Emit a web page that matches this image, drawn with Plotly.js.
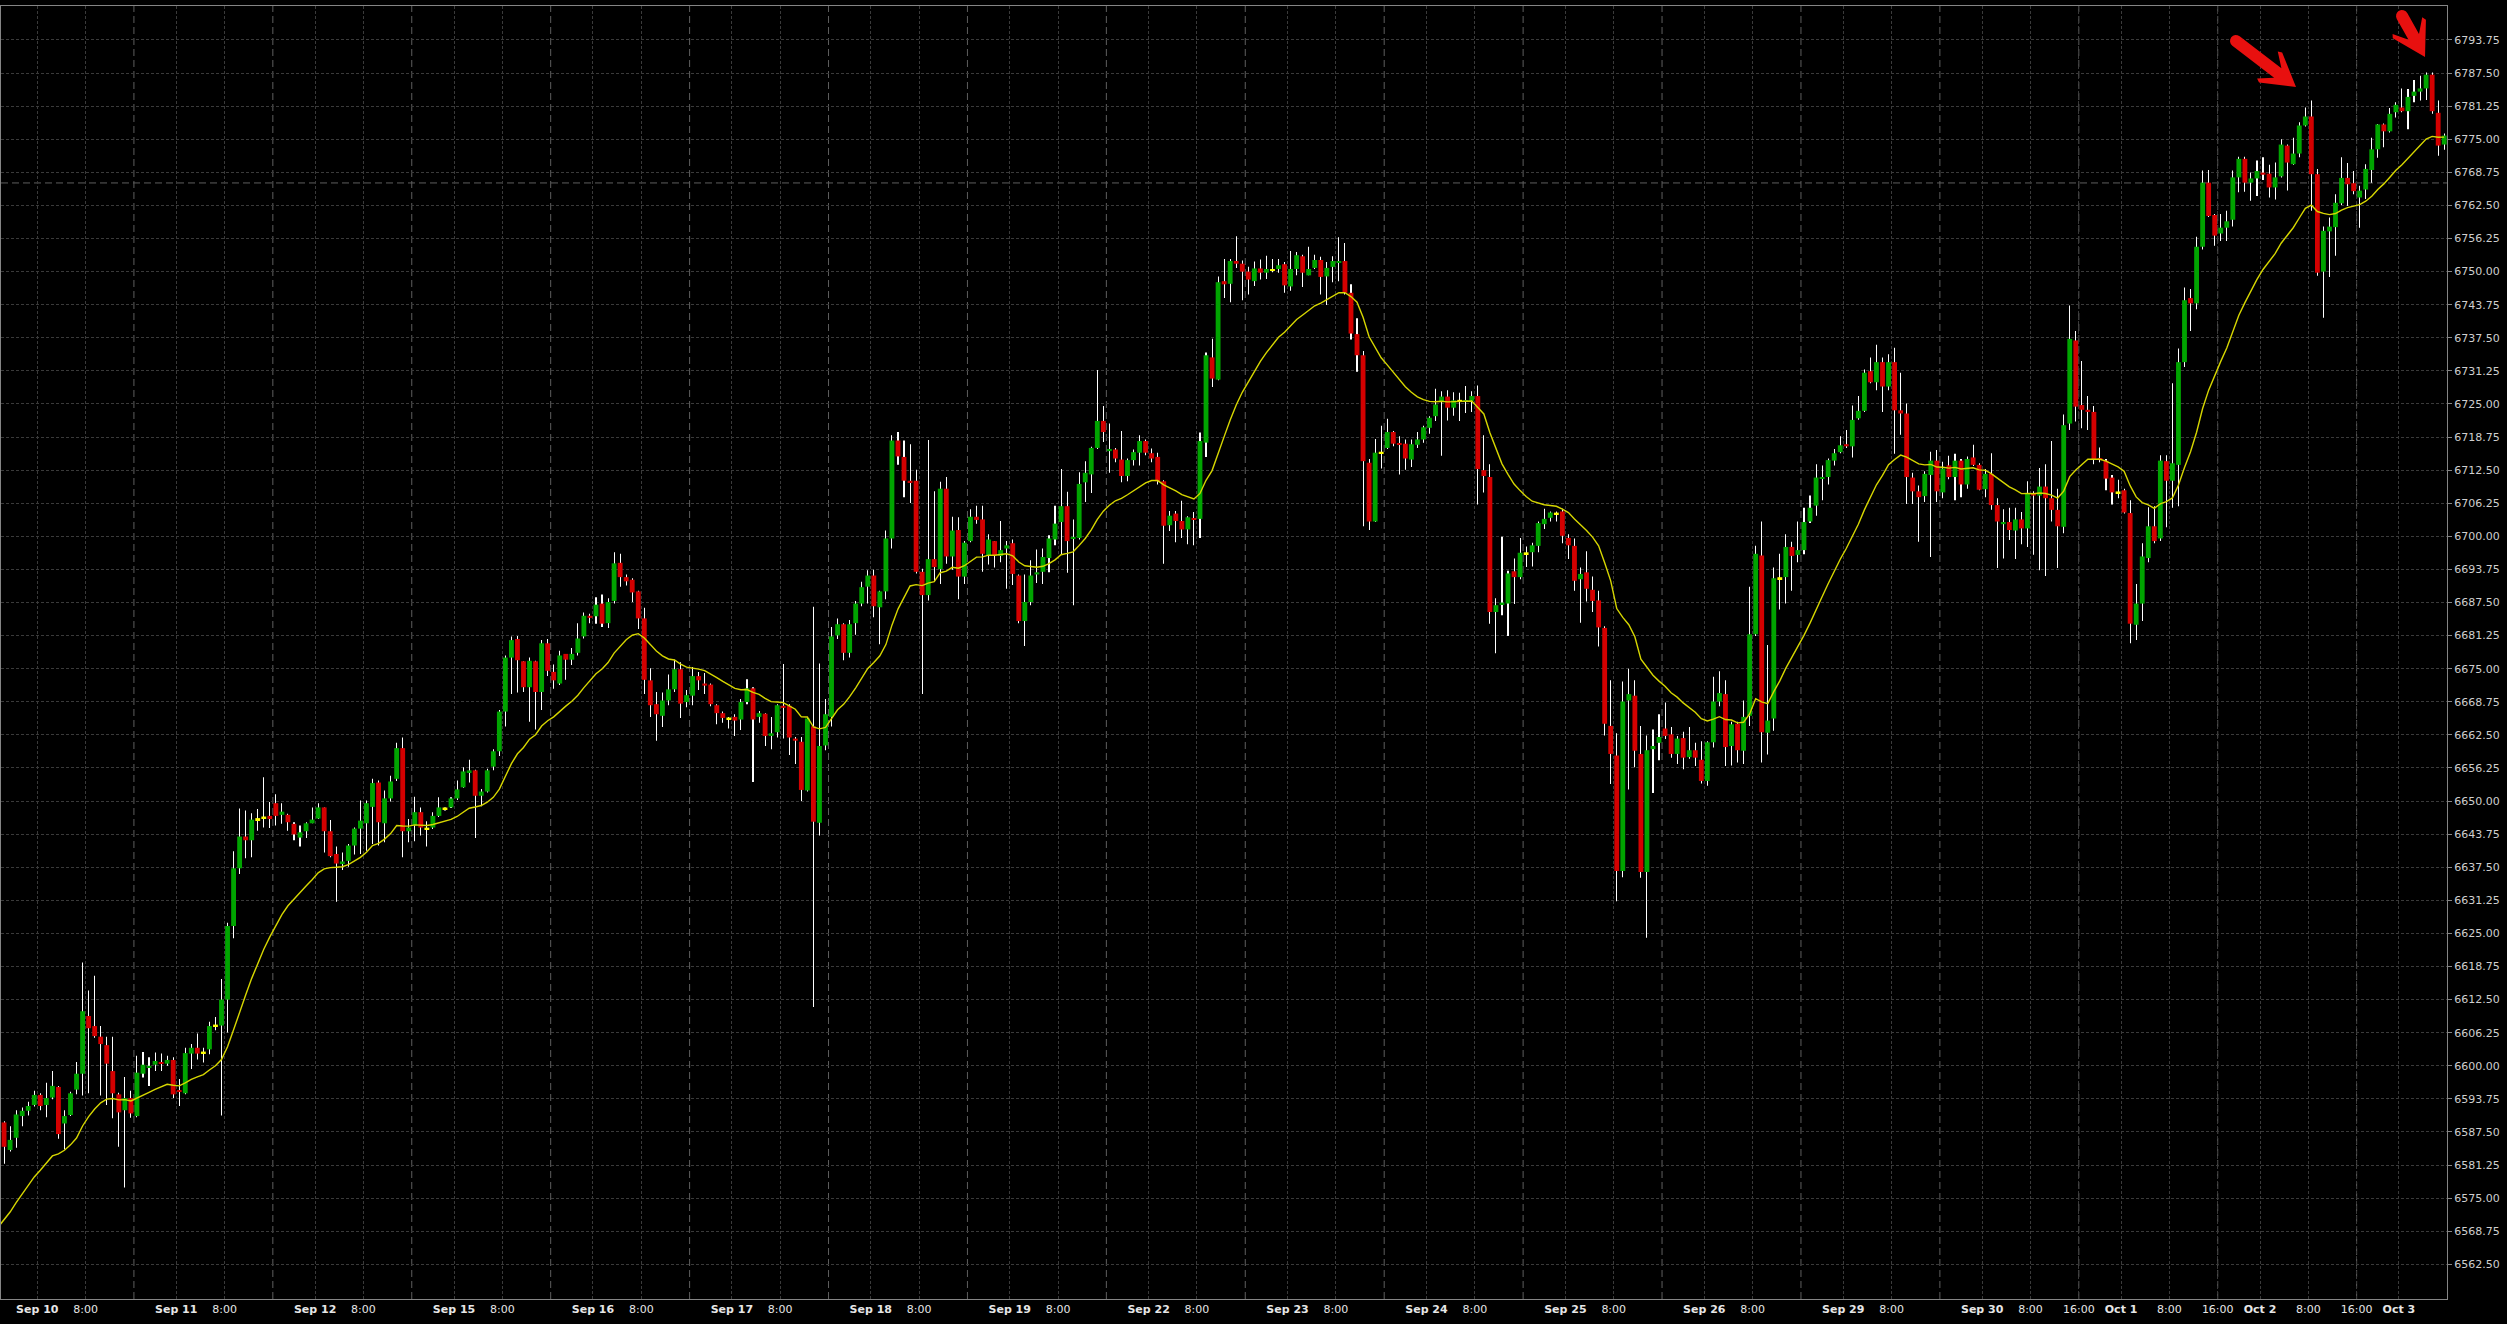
<!DOCTYPE html>
<html>
<head>
<meta charset="utf-8">
<script src="https://cdn.plot.ly/plotly-3.0.1.min.js"></script>
<style>
html,body{margin:0;padding:0;background:#000;overflow:hidden;}
#chart{width:2507px;height:1324px;}
</style>
</head>
<body>
<div id="chart"></div>
<script>
// Hourly candles, first candle = Sep 9 16:00, 23 candles per trading day
const tradingDays = ['Sep 10','Sep 11','Sep 12','Sep 15','Sep 16','Sep 17','Sep 18','Sep 19','Sep 22','Sep 23','Sep 24','Sep 25','Sep 26','Sep 29','Sep 30','Oct 1','Oct 2','Oct 3'];
const daysWith16Label = ['Sep 30','Oct 1','Oct 2'];
const candlesBeforeFirstDay = 7;
const candlesPerDay = 23;

const openPrices = [
6585.8,6589.3,6584.1,6586.4,6590.5,6591.5,6592.6,6594.5,6592.6,6594.0,
6596.0,6589.1,6590.7,6595.5,6598.5,6609.4,6607.5,6605.5,6603.9,6599.0,
6594.6,6591.6,6593.9,6590.5,6598.5,6599.7,6600.2,6600.7,6600.4,6601.1,
6595.4,6594.8,6602.3,6603.4,6602.5,6603.1,6607.6,6607.6,6612.5,6626.4,
6637.3,6643.3,6642.6,6646.6,6646.9,6647.2,6649.6,6647.4,6647.4,6645.7,
6643.1,6644.3,6645.8,6646.7,6648.8,6644.3,6640.0,6638.1,6638.7,6641.6,
6644.8,6645.8,6648.9,6653.5,6645.8,6650.5,6654.2,6660.0,6644.3,6645.4,
6647.9,6644.8,6645.0,6647.2,6648.6,6648.8,6650.5,6652.6,6655.3,6655.8,
6651.0,6651.8,6656.5,6659.4,6666.9,6677.1,6680.6,6676.4,6671.5,6676.4,
6670.6,6679.8,6674.4,6672.2,6677.8,6676.7,6678.0,6681.1,6685.0,6684.9,
6687.3,6683.6,6687.8,6695.0,6692.3,6691.8,6689.6,6684.5,6672.8,6668.3,
6666.1,6669.0,6671.1,6674.9,6668.7,6669.9,6673.6,6672.2,6672.0,6668.1,
6666.6,6665.6,6665.9,6665.4,6668.7,6671.3,6665.9,6666.5,6662.3,6663.0,
6668.0,6668.0,6661.8,6661.2,6652.0,6664.1,6645.9,6660.5,6665.9,6681.3,
6683.4,6678.0,6683.6,6687.3,6690.5,6692.6,6686.6,6689.6,6699.6,6718.1,
6715.0,6710.5,6710.5,6693.3,6688.9,6695.7,6693.8,6709.0,6696.2,6701.2,
6692.4,6699.1,6703.7,6703.2,6696.4,6699.1,6696.3,6697.7,6698.7,6692.6,
6684.0,6687.6,6692.8,6693.3,6695.9,6699.4,6702.7,6705.7,6699.5,6699.7,
6710.2,6711.7,6716.7,6721.8,6716.1,6716.4,6714.5,6711.4,6714.4,6715.8,
6718.0,6715.7,6715.0,6710.4,6702.1,6704.3,6702.9,6701.3,6703.4,6703.3,
6717.7,6733.8,6729.6,6748.2,6747.7,6752.0,6751.5,6750.0,6748.2,6750.6,
6749.8,6750.3,6750.5,6751.4,6747.2,6750.5,6752.9,6749.3,6750.7,6752.2,
6749.1,6750.9,6751.7,6752.0,6746.0,6738.2,6734.2,6713.9,6702.8,6715.8,
6716.7,6719.7,6717.5,6717.5,6714.5,6717.3,6718.3,6720.5,6722.7,6725.5,
6726.4,6724.3,6725.6,6725.5,6725.6,6726.5,6712.5,6711.2,6685.7,6687.2,
6687.3,6693.4,6692.3,6696.8,6697.0,6698.2,6702.3,6703.5,6704.3,6704.7,
6699.7,6698.2,6691.9,6693.2,6689.9,6687.9,6682.7,6664.2,6658.6,6636.8,
6669.0,6669.9,6658.9,6636.6,6659.8,6661.0,6663.7,6662.6,6658.9,6661.9,
6658.3,6659.6,6657.8,6653.8,6661.1,6668.8,6670.2,6660.4,6664.6,6659.5,
6666.1,6681.5,6696.4,6662.9,6665.6,6692.1,6692.3,6698.0,6696.5,6697.4,
6702.8,6705.8,6710.9,6711.2,6714.3,6715.9,6717.4,6717.0,6722.3,6723.7,
6731.2,6729.1,6732.9,6728.3,6732.9,6723.8,6723.2,6711.1,6708.5,6707.6,
6711.6,6714.3,6708.3,6713.4,6711.2,6714.3,6709.8,6714.9,6713.5,6708.9,
6711.8,6705.9,6702.3,6702.7,6701.1,6703.2,6701.5,6708.2,6707.7,6709.4,
6707.2,6705.0,6701.8,6721.3,6737.0,6724.8,6723.9,6723.5,6714.8,6714.3,
6711.1,6708.3,6708.7,6704.4,6683.3,6687.3,6695.9,6701.9,6699.6,6714.2,
6710.5,6713.5,6732.9,6745.0,6744.0,6754.7,6766.8,6760.7,6757.2,6758.3,
6759.8,6767.8,6771.3,6766.8,6767.6,6768.7,6768.5,6765.9,6768.0,6773.8,
6770.3,6772.3,6777.6,6779.3,6768.4,6750.0,6757.6,6758.4,6762.9,6767.7,
6766.7,6764.0,6765.5,6769.2,6773.1,6777.8,6776.5,6780.1,6781.0,6780.3,
6783.2,6784.0,6784.6,6787.2,6780.0,6774.0
];

const highPrices = [
6590.0,6589.5,6588.6,6591.6,6592.1,6593.2,6595.3,6594.8,6596.8,6599.0,
6596.2,6591.6,6595.1,6600.7,6619.5,6614.2,6617.0,6607.5,6605.5,6605.5,
6594.9,6597.9,6595.3,6601.9,6602.6,6601.6,6602.5,6602.3,6601.9,6601.6,
6597.5,6603.4,6604.1,6606.1,6603.4,6608.3,6609.2,6616.4,6627.0,6640.5,
6648.6,6648.2,6647.7,6648.5,6654.5,6649.8,6651.3,6649.6,6647.6,6646.0,
6645.4,6646.0,6648.8,6649.6,6648.8,6646.4,6641.4,6640.3,6641.9,6645.0,
6650.1,6650.1,6654.2,6653.9,6652.0,6654.8,6661.0,6662.0,6646.6,6650.8,
6648.8,6646.2,6647.9,6650.7,6648.8,6650.7,6653.9,6656.4,6657.8,6655.9,
6652.3,6656.1,6659.8,6667.2,6677.5,6681.1,6681.2,6676.4,6677.1,6676.5,
6680.4,6680.6,6675.8,6678.4,6677.8,6678.9,6683.6,6685.6,6685.4,6688.5,
6689.0,6688.3,6697.0,6696.7,6692.8,6692.1,6689.7,6686.5,6675.1,6670.6,
6670.5,6673.9,6676.7,6676.2,6671.0,6675.3,6674.4,6674.2,6672.2,6668.3,
6666.9,6665.9,6666.4,6669.3,6673.0,6671.5,6667.0,6666.6,6665.9,6668.3,
6675.9,6668.3,6662.1,6662.1,6665.9,6686.7,6676.0,6669.3,6682.9,6684.5,
6683.6,6684.2,6687.8,6691.4,6693.6,6693.7,6689.7,6701.1,6719.1,6719.7,
6718.1,6717.4,6712.6,6693.9,6718.2,6708.5,6710.3,6711.2,6703.7,6703.6,
6699.1,6705.1,6705.8,6705.8,6700.4,6699.1,6702.9,6699.1,6699.4,6692.8,
6692.8,6695.5,6697.5,6697.7,6700.2,6705.8,6712.7,6708.4,6703.2,6712.1,
6714.2,6716.9,6731.4,6724.6,6721.3,6716.7,6719.9,6714.7,6716.4,6719.1,
6718.3,6716.6,6715.8,6710.6,6704.8,6704.8,6706.7,6703.8,6704.6,6719.6,
6734.7,6737.3,6749.1,6752.4,6752.4,6756.7,6752.1,6750.9,6751.9,6752.3,
6753.0,6752.4,6752.4,6751.8,6753.9,6753.7,6753.2,6754.7,6753.2,6752.8,
6751.8,6752.9,6756.5,6755.4,6747.6,6741.2,6735.0,6714.6,6718.4,6720.9,
6722.2,6719.9,6718.9,6718.3,6718.3,6719.7,6720.9,6722.7,6727.9,6727.4,
6727.6,6727.2,6727.1,6728.4,6727.4,6728.5,6719.1,6713.6,6688.3,6699.9,
6693.5,6695.8,6699.7,6698.1,6698.8,6702.8,6705.2,6704.7,6704.7,6705.2,
6700.4,6699.6,6694.1,6697.2,6692.4,6689.7,6683.0,6672.8,6662.8,6672.6,
6675.0,6672.8,6664.2,6662.4,6663.5,6666.4,6668.6,6664.0,6662.3,6663.1,
6664.0,6661.0,6661.3,6661.3,6673.5,6674.5,6672.8,6665.0,6665.0,6669.0,
6690.5,6698.2,6702.8,6679.5,6694.1,6696.7,6700.4,6699.0,6702.8,6705.4,
6707.7,6713.6,6713.4,6714.7,6716.5,6718.9,6720.1,6724.7,6726.5,6731.5,
6733.8,6736.2,6733.8,6734.4,6735.6,6730.9,6725.1,6712.0,6709.6,6712.3,
6716.0,6716.3,6714.1,6715.2,6715.6,6714.6,6715.1,6717.3,6713.8,6712.7,
6715.7,6707.2,6705.1,6705.4,6705.4,6704.6,6710.4,6708.5,6712.9,6713.6,
6718.0,6709.0,6723.0,6743.6,6738.8,6733.1,6726.5,6724.6,6716.8,6714.6,
6711.6,6710.7,6709.0,6706.8,6691.0,6698.7,6705.5,6705.7,6715.3,6715.3,
6728.9,6735.5,6747.0,6746.7,6756.6,6769.1,6769.2,6760.9,6760.9,6761.5,
6769.1,6771.7,6771.7,6768.7,6771.0,6771.6,6770.2,6770.6,6775.0,6774.0,
6775.3,6778.2,6781.0,6782.3,6769.4,6758.5,6760.2,6764.6,6771.6,6770.5,
6769.0,6766.2,6770.3,6775.3,6777.9,6778.0,6780.9,6782.0,6784.6,6784.5,
6786.2,6787.0,6787.6,6787.6,6782.3,6776.1
];

const lowPrices = [
6584.5,6581.5,6583.8,6584.5,6588.6,6590.6,6592.3,6591.6,6590.3,6593.7,
6586.2,6584.2,6590.5,6594.6,6594.4,6594.8,6605.3,6594.4,6592.6,6590.1,
6584.7,6577.0,6590.2,6590.3,6597.8,6596.2,6599.0,6599.0,6600.0,6593.9,
6592.4,6594.6,6599.4,6601.2,6600.6,6602.2,6606.7,6590.6,6606.3,6624.1,
6636.2,6639.2,6639.4,6644.4,6645.0,6644.9,6645.4,6645.7,6644.4,6642.6,
6641.4,6643.0,6645.8,6646.6,6640.3,6639.4,6631.0,6637.0,6637.6,6639.9,
6640.0,6640.6,6641.9,6641.6,6642.2,6649.9,6653.8,6639.4,6642.2,6642.4,
6643.5,6641.4,6644.7,6647.0,6648.2,6648.7,6650.2,6652.5,6653.5,6643.0,
6649.0,6651.6,6655.8,6658.5,6664.1,6670.2,6670.5,6670.6,6665.0,6663.5,
6667.2,6673.6,6671.2,6671.9,6672.9,6675.7,6677.5,6680.7,6683.6,6683.5,
6682.9,6682.7,6687.3,6690.5,6690.7,6687.6,6682.5,6670.2,6665.9,6661.4,
6664.0,6668.1,6670.6,6665.7,6667.7,6668.1,6671.0,6670.2,6667.9,6664.5,
6664.8,6663.7,6662.3,6663.4,6668.3,6653.6,6664.8,6660.4,6659.8,6662.0,
6661.8,6658.7,6657.0,6650.0,6651.8,6611.1,6643.5,6659.6,6664.1,6680.6,
6676.6,6677.1,6681.4,6686.8,6687.3,6684.7,6679.6,6688.1,6697.7,6713.5,
6707.4,6706.3,6693.0,6670.2,6687.9,6691.5,6691.0,6694.8,6693.7,6688.1,
6691.0,6698.9,6702.4,6693.3,6694.7,6694.1,6695.1,6690.1,6690.8,6683.6,
6679.3,6687.0,6691.2,6691.0,6693.2,6698.3,6696.6,6693.1,6687.0,6699.4,
6706.5,6708.2,6716.5,6717.8,6712.0,6714.0,6710.2,6710.4,6713.4,6713.4,
6715.3,6714.0,6709.8,6694.8,6701.0,6698.9,6699.7,6698.5,6698.3,6699.7,
6715.0,6728.2,6729.5,6745.0,6744.2,6750.7,6744.6,6745.7,6747.3,6748.5,
6748.6,6749.9,6749.8,6746.0,6746.4,6749.3,6747.1,6749.3,6750.5,6745.7,
6743.7,6748.0,6748.2,6745.7,6737.2,6731.1,6701.9,6701.2,6702.7,6712.8,
6716.5,6717.0,6711.7,6712.6,6713.1,6716.7,6717.7,6719.4,6721.8,6715.2,
6721.9,6722.8,6721.8,6723.3,6723.5,6706.0,6708.3,6683.5,6677.9,6685.1,
6681.2,6687.2,6691.9,6694.2,6694.3,6697.0,6701.4,6702.8,6702.8,6698.7,
6695.7,6689.7,6683.7,6687.7,6685.7,6679.2,6662.4,6653.2,6631.1,6635.6,
6652.2,6656.4,6635.5,6624.2,6651.5,6657.7,6661.7,6658.2,6657.0,6656.0,
6658.0,6656.6,6653.3,6652.9,6660.1,6667.9,6656.6,6656.7,6657.3,6657.0,
6664.2,6681.2,6657.3,6658.8,6663.3,6686.2,6687.3,6689.7,6695.1,6696.6,
6702.5,6703.9,6706.8,6709.8,6713.4,6715.7,6716.7,6714.9,6722.0,6723.5,
6728.9,6727.6,6723.5,6727.6,6715.6,6719.2,6706.1,6706.1,6699.0,6706.5,
6696.1,6706.5,6707.2,6710.8,6706.8,6707.4,6709.0,6713.3,6708.7,6707.4,
6705.0,6694.0,6695.8,6699.3,6695.7,6698.5,6698.0,6696.5,6693.6,6692.5,
6702.8,6694.0,6700.6,6720.1,6721.7,6720.4,6720.1,6713.6,6714.0,6708.7,
6706.0,6707.2,6704.3,6679.8,6680.4,6684.0,6695.1,6698.7,6699.1,6701.7,
6705.4,6705.7,6732.0,6738.8,6742.9,6754.2,6760.3,6754.9,6755.8,6755.8,
6758.5,6765.0,6765.1,6763.4,6764.3,6767.3,6764.0,6763.6,6767.8,6765.3,
6770.2,6771.6,6777.4,6761.5,6749.2,6741.3,6749.0,6753.0,6762.6,6762.4,
6764.6,6758.3,6763.7,6766.8,6771.5,6773.5,6776.3,6779.1,6780.1,6776.9,
6782.0,6782.3,6782.4,6779.8,6771.9,6773.0
];

const closePrices = [
6589.0,6584.7,6586.0,6590.8,6591.5,6592.4,6594.5,6592.4,6593.9,6596.2,
6587.1,6590.5,6594.8,6598.5,6610.3,6607.1,6605.6,6604.1,6600.4,6594.8,
6591.2,6593.9,6591.0,6598.7,6600.2,6600.0,6600.9,6600.4,6601.1,6594.6,
6595.1,6602.4,6603.4,6602.3,6602.5,6607.5,6607.6,6612.5,6626.4,6637.3,
6643.3,6642.6,6646.5,6646.6,6646.9,6646.6,6647.2,6648.0,6646.0,6643.7,
6644.1,6645.8,6646.5,6648.8,6644.3,6639.6,6638.2,6638.6,6641.6,6644.8,
6646.3,6649.6,6653.4,6646.0,6650.5,6653.7,6660.0,6644.3,6645.0,6647.9,
6645.0,6644.8,6647.2,6648.8,6648.6,6650.5,6652.2,6655.6,6655.8,6651.0,
6651.8,6655.8,6659.4,6666.9,6677.1,6680.4,6676.6,6671.5,6676.5,6670.6,
6679.8,6674.6,6672.8,6677.5,6676.7,6677.8,6680.7,6685.0,6684.6,6687.1,
6683.5,6687.6,6694.9,6692.3,6691.5,6689.4,6684.5,6672.9,6668.1,6666.4,
6669.0,6671.1,6674.9,6668.4,6670.0,6673.6,6672.8,6671.8,6668.3,6666.6,
6665.7,6665.6,6665.2,6668.7,6671.3,6665.4,6666.6,6662.3,6662.8,6668.1,
6667.6,6662.0,6661.4,6652.1,6665.6,6646.1,6660.4,6666.4,6681.1,6683.4,
6678.0,6683.4,6687.3,6690.4,6692.6,6686.8,6689.6,6699.6,6718.1,6715.1,
6710.5,6710.2,6693.3,6688.9,6695.7,6694.2,6709.0,6696.2,6701.1,6692.4,
6698.8,6703.7,6703.1,6696.7,6699.4,6696.4,6697.4,6698.3,6692.9,6684.0,
6687.6,6692.6,6693.2,6696.1,6699.6,6702.4,6705.7,6699.1,6699.9,6709.9,
6712.0,6716.7,6721.8,6719.7,6716.5,6714.7,6711.4,6714.4,6715.9,6718.0,
6715.8,6714.7,6710.4,6702.0,6703.9,6702.9,6701.3,6703.6,6703.2,6718.0,
6734.2,6729.8,6748.0,6747.6,6752.0,6751.5,6750.0,6748.5,6750.6,6749.8,
6750.5,6750.3,6751.2,6747.4,6750.5,6753.1,6749.8,6750.5,6752.2,6749.0,
6750.7,6752.0,6752.0,6746.0,6738.3,6734.2,6714.2,6702.8,6715.8,6715.8,
6719.7,6717.5,6717.3,6714.7,6717.4,6718.3,6720.6,6722.4,6724.9,6726.4,
6724.3,6725.7,6725.6,6725.7,6726.5,6712.7,6711.4,6685.7,6687.0,6687.5,
6693.0,6692.3,6696.9,6696.8,6698.3,6702.5,6703.3,6704.5,6704.3,6700.1,
6698.3,6691.6,6692.9,6690.1,6687.8,6682.8,6664.6,6658.9,6636.8,6668.8,
6670.2,6659.5,6636.6,6659.6,6660.4,6662.1,6662.3,6658.9,6661.8,6658.2,
6659.6,6658.2,6653.8,6661.1,6668.8,6670.4,6660.2,6664.5,6659.6,6665.9,
6681.5,6696.7,6663.0,6665.2,6692.1,6692.1,6698.0,6696.3,6697.4,6702.7,
6705.4,6711.1,6711.2,6714.4,6715.7,6717.2,6717.0,6722.0,6723.7,6730.9,
6729.1,6732.9,6728.3,6732.9,6723.8,6723.2,6711.2,6708.5,6707.4,6711.8,
6714.3,6708.5,6712.8,6711.2,6714.3,6709.8,6714.6,6713.5,6708.8,6711.8,
6705.9,6702.8,6702.7,6701.2,6703.2,6701.5,6708.2,6707.7,6709.4,6707.2,
6705.0,6701.9,6721.0,6737.3,6724.5,6723.9,6723.5,6714.6,6714.4,6710.9,
6708.3,6708.3,6704.5,6683.5,6687.3,6696.2,6701.9,6699.1,6714.3,6710.5,
6713.8,6732.9,6744.6,6744.0,6754.7,6766.8,6760.5,6756.8,6758.3,6759.5,
6767.8,6771.3,6766.8,6767.6,6769.0,6768.3,6765.9,6767.8,6774.0,6770.6,
6772.3,6777.6,6779.3,6768.4,6749.8,6757.7,6758.5,6763.0,6767.7,6766.5,
6765.2,6765.3,6769.4,6773.1,6777.8,6776.5,6779.8,6781.5,6780.3,6783.0,
6784.0,6784.6,6787.2,6780.3,6773.8,6775.7
];

// Moving average (EMA 20 of closes); its value at the left edge
const maPeriod = 20;
const maStartValue = 6569.5;

// horizontal dashed level line
const levelPrice = 6766.75;

// y axis tick labels
const yTickFirst = 6562.5, yTickLast = 6793.75, yTickStep = 6.25;

// arrow annotations: tip in (candle index, price), tail offset from tip in px
const arrowTips = [[380.46, 6784.87], [401.82, 6790.54]];
const arrowTailOffsets = [[-60, -46], [-23, -41]];

// ---------- build ----------
const N = closePrices.length;
const idx = closePrices.map((_, i) => i);
const GREEN = '#00a400', RED = '#d40000', DOJI = '#ffff00';

const wickLen = highPrices.map((h, i) => h - lowPrices[i]);
const bodyBase = [], bodyLen = [], bodyColor = [];
const minBody = 0.2, dojiThick = 0.36;
for (let i = 0; i < N; i++) {
  const o = openPrices[i], c = closePrices[i];
  if (o === c) {
    bodyBase.push(o - dojiThick / 2); bodyLen.push(dojiThick); bodyColor.push(DOJI);
  } else {
    let lo = Math.min(o, c), len = Math.abs(c - o);
    if (len < minBody) { lo = (o + c) / 2 - minBody / 2; len = minBody; }
    bodyBase.push(lo); bodyLen.push(len); bodyColor.push(c > o ? GREEN : RED);
  }
}

const k = 2 / (maPeriod + 1);
const ma = [];
for (let i = 0; i < N; i++) {
  ma.push(i === 0 ? maStartValue : ma[i - 1] + k * (closePrices[i] - ma[i - 1]));
}

const W = 2507, H = 1324;
const margin = {l: 1, r: 60, t: 6, b: 25};
const xRange = [0.4934, 405.46];
const yRange = [6555.95, 6800.17];
const plotW = W - margin.l - margin.r, plotH = H - margin.t - margin.b;
const pxPerX = plotW / (xRange[1] - xRange[0]);
const pxPerY = plotH / (yRange[1] - yRange[0]);
const toPx = (x, y) => [margin.l + (x - xRange[0]) * pxPerX, margin.t + (yRange[1] - y) * pxPerY];
const toData = (px, py) => [xRange[0] + (px - margin.l) / pxPerX, yRange[1] - (py - margin.t) / pxPerY];

// x ticks: gridlines sit half a candle before the hour's candle
const tickvals = [], ticktext = [], shapes = [];
tradingDays.forEach((d, di) => {
  const start = candlesBeforeFirstDay + candlesPerDay * di - 0.5;
  const add = (v, t) => { if (v > xRange[0] && v < xRange[1] - 1) { tickvals.push(v); ticktext.push(t); } };
  add(start, '<b>' + d + '</b>');
  add(start + 8, '8:00');
  if (daysWith16Label.includes(d)) add(start + 16, '16:00');
});
for (let di = -1; di < tradingDays.length; di++) {
  const v = candlesBeforeFirstDay + candlesPerDay * di + 16 - 0.5;
  if (v > xRange[0] && v < xRange[1]) {
    shapes.push({type: 'line', xref: 'x', yref: 'paper', x0: v, x1: v, y0: 0, y1: 1,
      line: {color: '#5e5e5e', width: 1, dash: '7px,4px'}, layer: 'below'});
  }
}
shapes.push({type: 'line', xref: 'paper', yref: 'y', x0: 0, x1: 1, y0: levelPrice, y1: levelPrice,
  line: {color: '#5e5e5e', width: 1, dash: '7px,4px'}, layer: 'below'});

// red marker-style arrows as filled paths
function arrowPath(tip, off) {
  const P = toPx(tip[0], tip[1]);
  const T = [P[0] + off[0], P[1] + off[1]];
  const len = Math.hypot(P[0] - T[0], P[1] - T[1]);
  const u = [(P[0] - T[0]) / len, (P[1] - T[1]) / len];
  const v = [-u[1], u[0]];
  const w = 12, hl = 36, hw = 17, notch = 13;
  const pt = (base, a, b) => [base[0] + u[0] * a + v[0] * b, base[1] + u[1] * a + v[1] * b];
  const pts = [];
  pts.push(pt(T, 0, w / 2));
  pts.push(pt(P, -(hl - notch), w / 2));
  pts.push(pt(P, -hl, hw));
  pts.push(pt(P, -hl + 4, hw + 2));
  pts.push(P);
  pts.push(pt(P, -hl + 4, -hw - 2));
  pts.push(pt(P, -hl, -hw));
  pts.push(pt(P, -(hl - notch), -w / 2));
  pts.push(pt(T, 0, -w / 2));
  for (let s = 1; s < 8; s++) {
    const th = Math.PI * s / 8;
    pts.push(pt(T, -Math.sin(th) * w / 2, -Math.cos(th) * w / 2));
  }
  return 'M' + pts.map(p => { const d = toData(p[0], p[1]); return d[0].toFixed(4) + ',' + d[1].toFixed(4); }).join('L') + 'Z';
}
arrowTips.forEach((t, j) => {
  shapes.push({type: 'path', xref: 'x', yref: 'y', path: arrowPath(t, arrowTailOffsets[j]),
    fillcolor: '#e8100f', line: {width: 0}, layer: 'above'});
});

const yTickVals = [];
for (let v = yTickFirst; v <= yTickLast + 1e-9; v += yTickStep) yTickVals.push(v);

const traces = [
  {type: 'bar', x: idx, base: lowPrices, y: wickLen, width: 0.02,
   marker: {color: '#ffffff', line: {width: 0}}, hoverinfo: 'skip', showlegend: false},
  {type: 'bar', x: idx, base: bodyBase, y: bodyLen, width: 0.8,
   marker: {color: bodyColor, line: {width: 0}}, hoverinfo: 'skip', showlegend: false},
  {type: 'scatter', mode: 'lines', x: idx, y: ma,
   line: {color: '#d6d600', width: 1.4}, hoverinfo: 'skip', showlegend: false}
];

const gridCol = '#3a3a3a';
const layout = {
  width: W, height: H,
  paper_bgcolor: '#000000', plot_bgcolor: '#000000',
  margin: {l: margin.l, r: margin.r, t: margin.t, b: margin.b, pad: 0},
  barmode: 'overlay', showlegend: false, hovermode: false,
  font: {family: 'DejaVu Sans', size: 11, color: '#e6e6e6'},
  xaxis: {
    type: 'linear', range: xRange, tickmode: 'array', tickvals: tickvals, ticktext: ticktext,
    showgrid: true, gridcolor: gridCol, gridwidth: 1, griddash: '3px,2px',
    zeroline: false, showline: true, linecolor: '#858585', linewidth: 1, mirror: true,
    ticks: '', tickfont: {family: 'DejaVu Sans', size: 11, color: '#e6e6e6'}, fixedrange: true
  },
  yaxis: {
    side: 'right', range: yRange, tickmode: 'array', tickvals: yTickVals,
    ticktext: yTickVals.map(v => v.toFixed(2)),
    showgrid: true, gridcolor: gridCol, gridwidth: 1, griddash: '3px,2px',
    zeroline: false, showline: true, linecolor: '#858585', linewidth: 1, mirror: true,
    ticks: 'outside', ticklen: 4, tickcolor: '#858585',
    tickfont: {family: 'DejaVu Sans', size: 11, color: '#cfcfcf'}, fixedrange: true
  },
  shapes: shapes
};

Plotly.newPlot('chart', traces, layout, {displayModeBar: false, responsive: false});
</script>
</body>
</html>
